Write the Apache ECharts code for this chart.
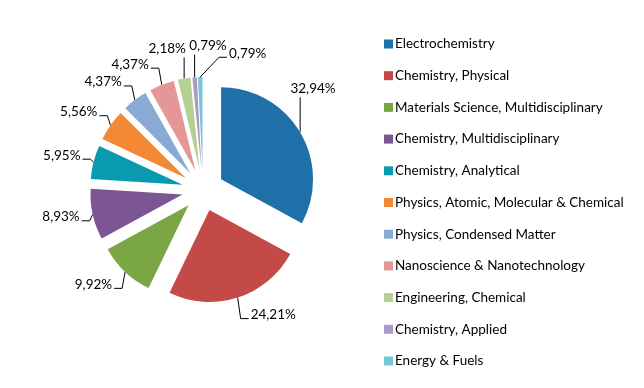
<!DOCTYPE html>
<html><head><meta charset="utf-8">
<script src="https://cdn.jsdelivr.net/npm/echarts@6/dist/echarts.min.js"></script>
<style>html,body{margin:0;padding:0;background:#fff}#c{width:644px;height:388px}</style>
</head><body><div id="c"></div>
<script>
const categories = ["Electrochemistry","Chemistry, Physical","Materials Science, Multidisciplinary","Chemistry, Multidisciplinary","Chemistry, Analytical","Physics, Atomic, Molecular & Chemical","Physics, Condensed Matter","Nanoscience & Nanotechnology","Engineering, Chemical","Chemistry, Applied","Energy & Fuels"];
const shares = [32.94,24.21,9.92,8.93,5.95,5.56,4.37,4.37,2.18,0.79,0.79];
const colors = ["#1f70a8","#c44a47","#7ba644","#7c5594","#0a9ab0","#f38835","#8aaad4","#e59797","#b4d093","#ab9ac6","#76c5d8"];

// geometry shared by the series and the Excel-like label placement
const C = [203, 190], R = 92, OFF = 21, GAP = 13, XMAX = 336, H = 15;
const FONT = 'Lato', FS = 13.5;
const total = shares.reduce((a, b) => a + b, 0);
const mids = []; let cum = 0;
shares.forEach(v => { mids.push((cum + v / 2) / total * 360); cum += v; });
const rad = d => d * Math.PI / 180;
const texts = shares.map(v => v.toFixed(2).replace('.', ',') + '%');
const ctx = document.createElement('canvas').getContext('2d');
ctx.font = FS + 'px ' + FONT;
const widths = texts.map(t => ctx.measureText(t).width);

function vertex(i) { const t = rad(mids[i]); return [C[0] + OFF * Math.sin(t), C[1] - OFF * Math.cos(t)]; }
function anchorAt(i, phi) { const V = vertex(i), t = rad(phi); return [V[0] + R * Math.sin(t), V[1] - R * Math.cos(t)]; }
function placeAt(i, phi, lift) {
  const t = rad(phi), A = anchorAt(i, phi);
  const b = Math.max(-1, Math.min(1, Math.sin(t) / 0.15));
  return { cx: A[0] + b * (GAP + widths[i] / 2), cy: A[1] - Math.cos(t) * 20 - 2 - lift, w: widths[i], h: H };
}
function overlap(a, b) { return Math.abs(a.cx - b.cx) < (a.w + b.w) / 2 + 2 && Math.abs(a.cy - b.cy) < (a.h + b.h) / 2; }
const placed = [];
for (let i = 0; i < shares.length; i++) {
  let phi = mids[i], lift = 0, p = placeAt(i, phi, lift), n = 0;
  while (p.cx + p.w / 2 > XMAX && n++ < 400) { phi += (phi % 360 < 90 ? -0.5 : 0.5); p = placeAt(i, phi, lift); }
  n = 0;
  while (placed.some(q => overlap(p, q)) && n++ < 400) {
    if (Math.sin(rad(phi)) < 0) lift += 1;
    phi += 0.5; p = placeAt(i, phi, lift);
  }
  const A = anchorAt(i, mids[i]);
  const L = p.cx - p.w / 2, Rr = p.cx + p.w / 2, T = p.cy - p.h / 2, B = p.cy + p.h / 2;
  let pts;
  if (A[0] < L - 1) { const att = [L - 2, p.cy + 4]; pts = [A, [Math.max(A[0], att[0] - 8), att[1]], att]; }
  else if (A[0] > Rr + 1) { const att = [Rr + 2, p.cy + 4]; pts = [A, [Math.min(A[0], att[0] + 8), att[1]], att]; }
  else { const att = [A[0], A[1] > p.cy ? B + 1 : T - 1]; pts = [A, att, att]; }
  p.pts = pts;
  placed.push(p);
}

// one pie series per exploded slice: same angles, own centre shifted along the slice's mid-angle
const series = categories.map((_, k) => ({
  type: 'pie',
  center: vertex(k),
  radius: [0, R],
  startAngle: 90,
  clockwise: true,
  avoidLabelOverlap: false,
  minShowLabelAngle: 0,
  silent: true,
  label: { show: false },
  labelLine: { show: false },
  labelLayout: function (params) {
    const p = placed[params.dataIndex];
    return { x: p.cx, y: p.cy, align: 'center', verticalAlign: 'middle', hideOverlap: false, labelLinePoints: p.pts };
  },
  emphasis: { disabled: true },
  data: categories.map((n, i) => i === k ? {
    name: n, value: shares[i],
    itemStyle: { color: colors[i] },
    label: { show: true, position: 'outside', fontFamily: FONT, fontSize: FS, color: '#000', formatter: texts[i] },
    labelLine: { show: true, length: 10, length2: 8, lineStyle: { color: '#000', width: 1 } }
  } : { name: n, value: shares[i], itemStyle: { color: 'rgba(0,0,0,0)' } })
}));

const chart = echarts.init(document.getElementById('c'));
chart.setOption({
  animation: false,
  legend: {
    orient: 'vertical', left: 379, top: 32,
    itemWidth: 9, itemHeight: 9, itemGap: 17.7,
    icon: 'rect',
    selectedMode: false,
    textStyle: { fontFamily: FONT, fontSize: FS, color: '#000', lineHeight: 14, padding: [0, 0, 0, -3] },
    data: categories.map((n, i) => ({ name: n, itemStyle: { color: colors[i] } }))
  },
  series: series
});
</script></body></html>
